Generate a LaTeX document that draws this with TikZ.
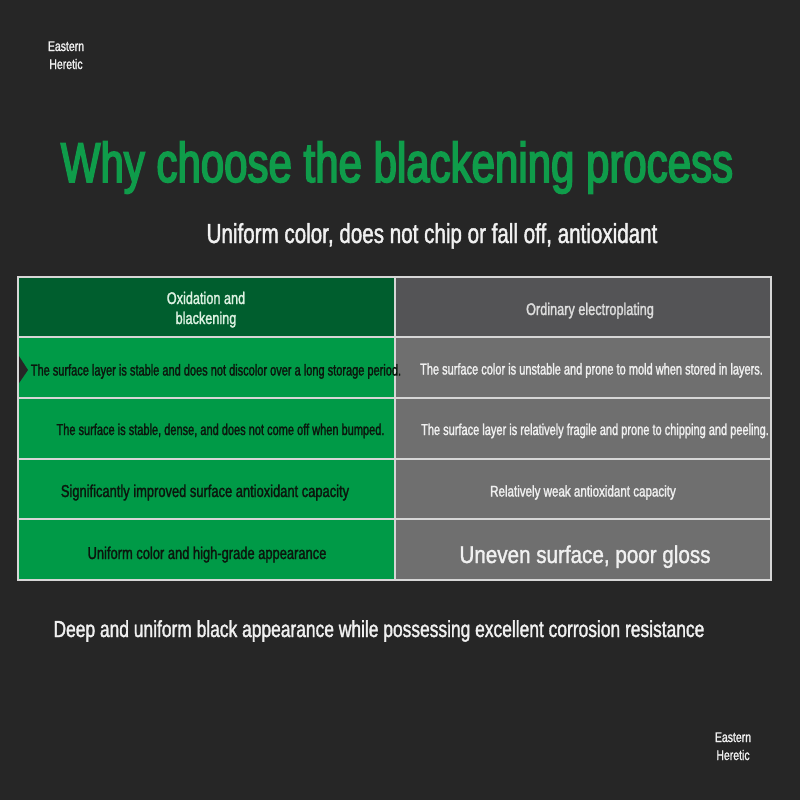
\documentclass[tikz,border=0pt]{standalone}
\usepackage{fontspec}
\setmainfont{Liberation Sans}[FakeStretch=0.75, BoldFont={Liberation Sans}, BoldFeatures={FakeBold=1.5}]
\newfontfamily\titlefont{Liberation Sans}[FakeStretch=0.75, BoldFont={Liberation Sans}, BoldFeatures={FakeBold=2.8}]
\newfontfamily\narrowfont{Liberation Sans}[FakeStretch=0.70, BoldFont={Liberation Sans}, BoldFeatures={FakeBold=1.5}]
\newfontfamily\widefont{Liberation Sans}[FakeStretch=0.85, BoldFont={Liberation Sans}, BoldFeatures={FakeBold=1.5}]
\definecolor{bg}{HTML}{262626}
\definecolor{hdgreen}{HTML}{005E2E}
\definecolor{rowgreen}{HTML}{009A47}
\definecolor{hdgray}{HTML}{545456}
\definecolor{rowgray}{HTML}{6F6F6F}
\definecolor{titlegreen}{HTML}{0F9C4A}
\definecolor{gridc}{HTML}{D6D6D6}
\definecolor{darktext}{HTML}{0B160D}
\definecolor{lighttext}{HTML}{F0F0F0}
\definecolor{hdtextl}{HTML}{DDF2E2}
\definecolor{hdtextr}{HTML}{DCDCDC}
\tikzset{
  txt/.style={inner sep=0pt, anchor=base},
  lefttxt/.style={txt, text=darktext, font=\narrowfont\bfseries\fontsize{11.8}{14}\selectfont},
  righttxt/.style={txt, text=lighttext, font=\narrowfont\bfseries\fontsize{11.8}{14}\selectfont},
  headtxt/.style={txt, font=\bfseries\fontsize{12.7}{15}\selectfont},
  sign/.style={txt, text=lighttext, font=\bfseries\fontsize{10.5}{13}\selectfont},
  gridline/.style={draw=gridc, line width=1.5pt}
}
\begin{document}
\begin{tikzpicture}[x=0.75pt,y=-0.75pt]
\useasboundingbox (0,0) rectangle (800,800);
\fill[bg] (0,0) rectangle (800,800);
% cells
\fill[hdgreen] (18,277) rectangle (395,337);
\fill[hdgray] (395,277) rectangle (771,337);
\fill[rowgreen] (18,337) rectangle (395,580);
\fill[rowgray] (395,337) rectangle (771,580);
% notch artifact
\fill[bg] (17,353) -- (28,370) -- (17,386) -- cycle;
% grid
\draw[gridline] (18,277) rectangle (771,580);
\foreach \yy in {337,398,459,519} \draw[gridline] (18,\yy) -- (771,\yy);
\draw[gridline] (395,277) -- (395,580);
% corner signature
\node[sign] (s1a) at (66,51) {Eastern};
\node[sign] (s1b) at (66,69) {Heretic};
\node[sign] (s2a) at (733,742) {Eastern};
\node[sign] (s2b) at (733,760) {Heretic};
% title
\node[txt, text=titlegreen, font=\titlefont\bfseries\fontsize{42}{48}\selectfont] (title) at (397,182) {Why choose the blackening process};
\node[txt, text=lighttext, font=\bfseries\fontsize{20.6}{24}\selectfont] (sub) at (432,243) {Uniform color, does not chip or fall off, antioxidant};
% header
\node[headtxt, text=hdtextl] (hl1) at (206,304) {Oxidation and};
\node[headtxt, text=hdtextl] (hl2) at (206,324) {blackening};
\node[headtxt, text=hdtextr] (hr) at (590,315) {Ordinary electroplating};
% rows left
\node[lefttxt] (l1) at (216,375.5) {The surface layer is stable and does not discolor over a long storage period.};
\node[lefttxt] (l2) at (220.5,435) {The surface is stable, dense, and does not come off when bumped.};
\node[lefttxt, font=\bfseries\fontsize{12.9}{15}\selectfont] (l3) at (205,497) {Significantly improved surface antioxidant capacity};
\node[lefttxt, font=\bfseries\fontsize{12.9}{15}\selectfont] (l4) at (207,559) {Uniform color and high-grade appearance};
% rows right
\node[righttxt] (r1) at (591.5,374.5) {The surface color is unstable and prone to mold when stored in layers.};
\node[righttxt] (r2) at (595,435) {The surface layer is relatively fragile and prone to chipping and peeling.};
\node[righttxt, font=\bfseries\fontsize{11.6}{14}\selectfont] (r3) at (583,496.5) {Relatively weak antioxidant capacity};
\node[righttxt, font=\widefont\bfseries\fontsize{18.2}{22}\selectfont] (r4) at (585,563) {Uneven surface, poor gloss};
% bottom
\node[txt, text=lighttext, font=\bfseries\fontsize{17.4}{21}\selectfont] (bottom) at (379,637) {Deep and uniform black appearance while possessing excellent corrosion resistance};
\end{tikzpicture}
\end{document}
